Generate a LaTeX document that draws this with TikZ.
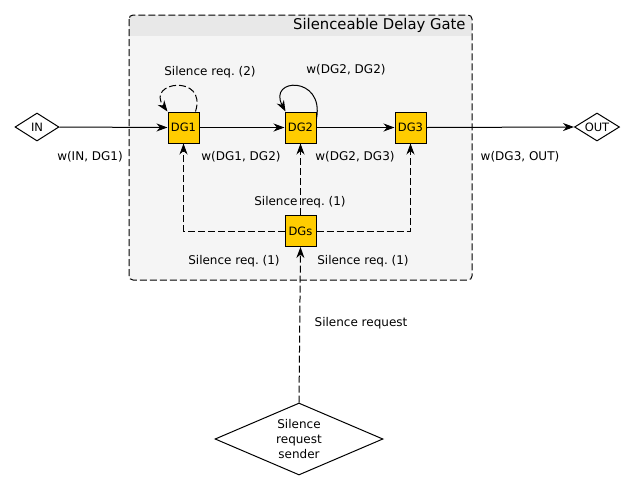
\documentclass[tikz,border=0pt]{standalone}
\usepackage{fontspec}
\setmainfont{DejaVu Sans}
\frenchspacing
\usetikzlibrary{arrows.meta,shapes.geometric}
\definecolor{dgyellow}{HTML}{FFCC00}
\definecolor{groupfill}{HTML}{F5F5F5}
\definecolor{bandfill}{HTML}{E8E8E8}
\begin{document}
\begin{tikzpicture}[x=1pt,y=-1pt,line width=1pt,
  dgbox/.style={draw=black,fill=dgyellow,minimum size=31pt,inner sep=0pt,font=\fontsize{11.5}{13}\selectfont},
  endpt/.style={draw=black,fill=white,diamond,aspect=1.6,inner sep=0pt,minimum height=28pt,font=\fontsize{11.5}{13}\selectfont},
  lbl/.style={font=\fontsize{12}{14}\selectfont,inner sep=0pt},
  arr/.style={-{Stealth[length=11pt,width=8pt,inset=3.5pt]}},
  dashline/.style={dash pattern=on 7pt off 3pt}]
\path[use as bounding box] (0,0) rectangle (632,491);
% group container
\fill[groupfill,rounded corners=4pt] (129,15) rectangle (472,280);
\begin{scope}
  \clip[rounded corners=4pt] (129,15) rectangle (472,280);
  \fill[bandfill] (129,15) rectangle (472,36);
\end{scope}
\draw[dashline,rounded corners=4pt] (129,15) rectangle (472,280);
\node[anchor=east,inner sep=0pt,font=\fontsize{14.8}{17}\selectfont] (title) at (466,25) {Silenceable Delay Gate};
% nodes
\node[endpt,minimum width=44pt] (in) at (37,127) {IN};
\node[endpt,minimum width=45pt] (out) at (597,127) {OUT};
\node[dgbox] (dg1) at (183.5,127.5) {DG1};
\node[dgbox] (dg2) at (300.5,127.5) {DG2};
\node[dgbox] (dg3) at (410.5,127.5) {DG3};
\node[dgbox] (dgs) at (300.5,231) {DGs};
\node[draw=black,fill=white,diamond,aspect=2.33,inner sep=0pt,minimum width=168pt,minimum height=72pt,
      align=center,font=\fontsize{12}{15}\selectfont] (sender) at (299,439) {Silence\\request\\sender};
% data edges
\draw[arr] (in.east) -- (dg1.west);
\draw[arr] (dg1.east) -- (dg2.west);
\draw[arr] (dg2.east) -- (dg3.west);
\draw[arr] (dg3.east) -- (out.west);
% self loops
\draw[dashline,arr] ([xshift=-4pt]dg1.north east) .. controls +(12,-38) and +(-22,-30) .. (dg1.north west);
\draw[arr] ([yshift=-7pt]dg2.north east) .. controls +(8,-43) and +(-18,-34) .. ([xshift=1pt]dg2.north west);
% silence edges
\draw[dashline,arr] (dgs.west) -| (dg1.south);
\draw[dashline,arr] (dgs.north) -- (dg2.south);
\draw[dashline,arr] (dgs.east) -| (dg3.south);
\draw[dashline,arr] (sender.north) -- (dgs.south);
% labels
\node[lbl] (l1) at (90,157) {w(IN, DG1)};
\node[lbl] (l2) at (241,157) {w(DG1, DG2)};
\node[lbl] (l3) at (355,157) {w(DG2, DG3)};
\node[lbl] (l4) at (520,157) {w(DG3, OUT)};
\node[lbl] (l5) at (210,72) {Silence req. (2)};
\node[lbl] (l6) at (346,70) {w(DG2, DG2)};
\node[lbl] (l7) at (300,202) {Silence req. (1)};
\node[lbl] (l8) at (234,261) {Silence req. (1)};
\node[lbl] (l9) at (363,261) {Silence req. (1)};
\node[lbl] (l10) at (361,323) {Silence request};
\end{tikzpicture}
\end{document}
